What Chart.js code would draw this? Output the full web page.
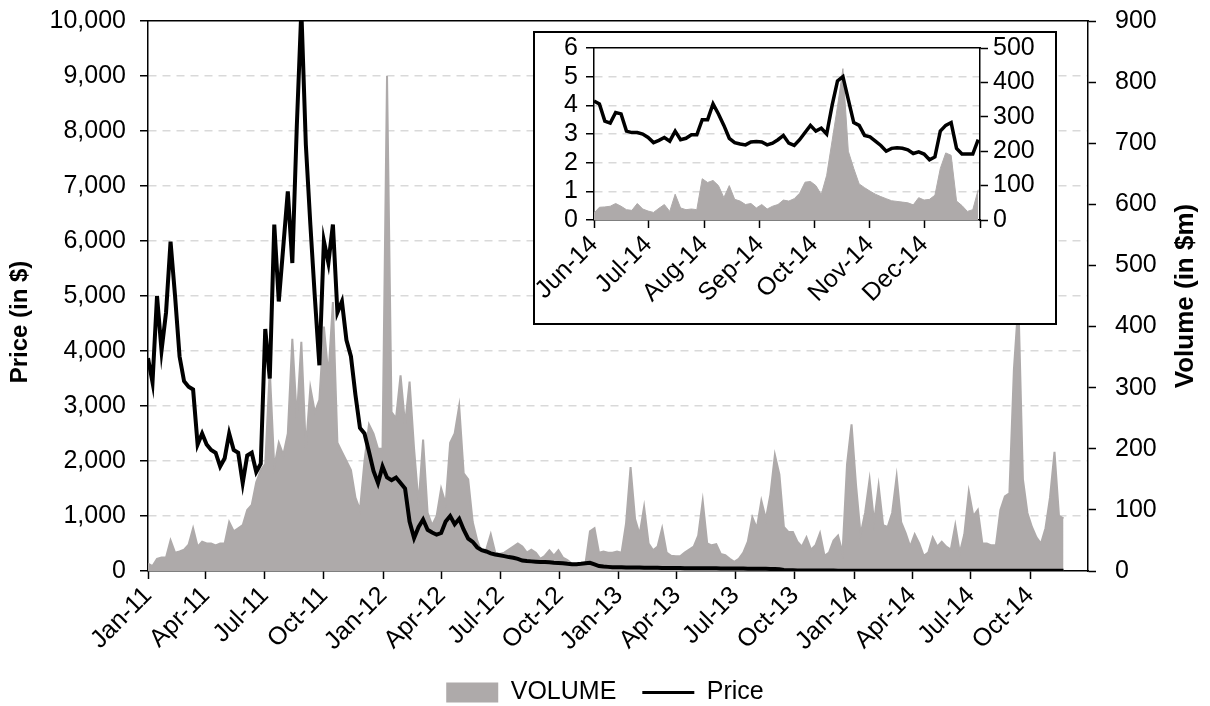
<!DOCTYPE html>
<html>
<head>
<meta charset="utf-8">
<script src="https://cdn.jsdelivr.net/npm/chart.js@4.4.1/dist/chart.umd.min.js"></script>
<style>
  html, body { margin: 0; padding: 0; background: #fff; }
  #wrap { position: relative; width: 1210px; height: 706px; }
  #mainChart { position: absolute; left: 0; top: 0; }
  #insetBox { position: absolute; left: 533px; top: 31px; width: 524px; height: 294px;
              box-sizing: border-box; border: 2px solid #000; background: #fff; }
  #insetChart { position: absolute; left: 0; top: 0; }
</style>
</head>
<body>
<div id="wrap">
  <canvas id="mainChart" width="1210" height="706"></canvas>
  <div id="insetBox"><canvas id="insetChart" width="520" height="290"></canvas></div>
</div>
<script>
// Weekly observations, first one on 1 Jan 2011
const mainStart = Date.UTC(2011, 0, 1);
const priceWeekly = [
  3870, 3430, 5000, 4010, 4700, 5990, 5000, 3900, 3450, 3350,
  3300, 2300, 2500, 2300, 2200, 2150, 1900, 2050, 2500, 2200,
  2150, 1600, 2100, 2150, 1800, 1950, 4400, 3500, 6300, 4900,
  5900, 6900, 5600, 8100, 10200, 7750, 6300, 4970, 3740, 6000,
  5600, 6300, 4700, 4900, 4200, 3900, 3200, 2600, 2500, 2170,
  1820, 1600, 1900, 1700, 1650, 1700, 1600, 1500, 900, 600,
  800, 936, 750, 700, 660, 690, 900, 1000, 850, 950,
  750, 590, 530, 430, 380, 355, 320, 300, 287, 270,
  253, 240, 220, 190, 180, 175, 170, 165, 165, 160,
  150, 145, 140, 130, 125, 125, 130, 140, 150, 120,
  90, 80, 75, 70, 68, 66, 65, 64, 63, 62,
  60, 60, 58, 57, 56, 55, 55, 54, 53, 52,
  52, 51, 50, 50, 49, 48, 48, 47, 46, 45,
  45, 44, 44, 43, 42, 42, 41, 40, 38, 35,
  30, 20, 15, 12, 10, 9, 8, 8, 8, 7,
  7, 7, 7, 6, 6, 6, 6, 6, 6, 6,
  6, 6, 6, 6, 6, 6, 5, 5, 5, 5,
  5, 5, 5, 5, 5, 5, 5, 5, 5, 5,
  5, 4, 4, 4, 4, 4, 4, 4, 4, 4,
  4, 4, 4, 4, 4, 4, 4, 3, 3, 3,
  3, 3, 3, 3
];
const volumeWeekly = [
  12, 8, 20, 22, 22, 50, 30, 32, 35, 43,
  70, 40, 48, 45, 45, 42, 45, 45, 80, 65,
  70, 75, 100, 108, 145, 165, 175, 330, 170, 210,
  190, 225, 380, 250, 375, 200, 300, 260, 280, 400,
  320, 440, 210, 195, 180, 165, 120, 100, 180, 240,
  225, 200, 200, 810, 260, 250, 320, 240, 310, 200,
  110, 215, 95, 75, 90, 135, 110, 210, 225, 270,
  160, 150, 80, 50, 30, 35, 60, 30, 28, 30,
  35, 40, 45, 40, 30, 35, 30, 20, 25, 34,
  25, 34, 22, 18, 12, 10, 10, 12, 65, 70,
  30, 32, 30, 30, 32, 30, 78, 170, 85, 60,
  105, 45, 34, 40, 70, 30, 25, 24, 24, 30,
  35, 40, 58, 115, 45, 42, 44, 28, 26, 20,
  15, 20, 30, 48, 88, 70, 115, 85, 125, 190,
  158, 72, 64, 64, 48, 40, 55, 35, 42, 62,
  25, 30, 50, 58, 30, 175, 240, 140, 60, 95,
  150, 80, 140, 75, 72, 95, 155, 80, 62, 40,
  60, 45, 25, 30, 55, 40, 48, 40, 35, 75,
  30, 60, 130, 90, 100, 45, 45, 42, 42, 100,
  122, 127, 330, 440, 150, 95, 72, 55, 45, 70,
  120, 195, 90, 86
];
const mainTickLabels = ['Jan-11', 'Apr-11', 'Jul-11', 'Oct-11', 'Jan-12', 'Apr-12', 'Jul-12', 'Oct-12',
  'Jan-13', 'Apr-13', 'Jul-13', 'Oct-13', 'Jan-14', 'Apr-14', 'Jul-14', 'Oct-14'];
const mainAxisEndDays = 1459;

// Inset: every third day from 1 Jun 2014
const insetStart = Date.UTC(2014, 5, 1);
const insetPrice = [
  4.15, 4.05, 3.45, 3.38, 3.75, 3.7, 3.1, 3.05, 3.05, 3.0,
  2.88, 2.7, 2.78, 2.88, 2.75, 3.1, 2.8, 2.85, 2.97, 2.97,
  3.5, 3.5, 4.05, 3.7, 3.3, 2.85, 2.7, 2.65, 2.62, 2.72,
  2.74, 2.72, 2.62, 2.68, 2.8, 2.95, 2.68, 2.6, 2.8, 3.05,
  3.3, 3.1, 3.2, 3.0, 4.0, 4.85, 5.0, 4.2, 3.4, 3.3,
  2.95, 2.9, 2.75, 2.6, 2.4, 2.5, 2.52, 2.5, 2.45, 2.32,
  2.38, 2.3, 2.1, 2.2, 3.1, 3.3, 3.4, 2.5, 2.3, 2.3,
  2.3, 2.8
];
const insetVolume = [
  20, 37, 38, 40, 48, 40, 30, 28, 48, 32,
  26, 22, 34, 45, 25, 75, 35, 30, 32, 30,
  120, 109, 115, 100, 65, 100, 60, 55, 45, 48,
  35, 45, 32, 40, 45, 58, 55, 62, 78, 110,
  112, 100, 74, 130, 230, 330, 440, 200, 150, 105,
  94, 84, 75, 68, 62, 56, 54, 52, 50, 44,
  65, 58, 60, 72, 150, 195, 188, 55, 42, 25,
  30, 88
];
const insetTickLabels = ['Jun-14', 'Jul-14', 'Aug-14', 'Sep-14', 'Oct-14', 'Nov-14', 'Dec-14', ''];
const insetAxisEndDays = 214;

const priceTitle = 'Price (in $)';
const volumeTitle = 'Volume (in $m)';

const GRID = '#D9D9D9';
const GRAY = '#AEAAAA';
const FONT = "'Liberation Sans', Arial, sans-serif";
const DAY = 86400000;
const MONTHS = ['Jan', 'Feb', 'Mar', 'Apr', 'May', 'Jun', 'Jul', 'Aug', 'Sep', 'Oct', 'Nov', 'Dec'];
const LEGEND_SHIFT = 9; // legend sits a little lower than Chart.js puts it

Chart.defaults.font.family = FONT;
Chart.defaults.font.size = 25;
Chart.defaults.color = '#000';
Chart.defaults.animation = false;

// day offset of a "Mon-YY" label from a start date
function labelDay(label, start, fallback) {
  if (!label) return fallback;
  const [m, y] = label.split('-');
  return (Date.UTC(2000 + parseInt(y), MONTHS.indexOf(m), 1) - start) / DAY;
}
const mainTickDays = mainTickLabels.map(l => labelDay(l, mainStart));
const insetTickDays = insetTickLabels.map(l => labelDay(l, insetStart, insetAxisEndDays));

function series(values, step) {
  return values.map((v, i) => ({ x: i * step, y: v }));
}

// grid lines dashed, but not on the 0 line or the top edge
function gridColor(max) {
  return ctx => (ctx.tick && (ctx.tick.value === 0 || ctx.tick.value === max)) ? 'rgba(0,0,0,0)' : GRID;
}

// fixed axis width, and keep the label padding from pushing the plot down
function fixWidth(w) {
  return s => { s.width = w; s.paddingTop = 0; s.paddingBottom = 0; };
}

// both axis titles read bottom to top, like the original
function drawTitle(ctx, text, x, y, size) {
  ctx.save();
  ctx.translate(x, y);
  ctx.rotate(-Math.PI / 2);
  ctx.font = 'bold ' + size + 'px ' + FONT;
  ctx.fillStyle = '#000';
  ctx.textAlign = 'center';
  ctx.textBaseline = 'middle';
  ctx.fillText(text, 0, 0);
  ctx.restore();
}
const axisTitles = {
  id: 'axisTitles',
  afterDraw(chart) {
    drawTitle(chart.ctx, priceTitle, 20, 322, 24);
    drawTitle(chart.ctx, volumeTitle, 1186, 296, 26);
  }
};

new Chart(document.getElementById('mainChart'), {
  type: 'line',
  data: {
    datasets: [{
      label: 'VOLUME',
      data: series(volumeWeekly, 7),
      yAxisID: 'yV',
      order: 2,
      fill: 'origin',
      backgroundColor: GRAY,
      borderColor: GRAY,
      borderWidth: 2,
      pointRadius: 0,
      pointStyle: 'rect',
      pointBackgroundColor: GRAY,
      pointBorderWidth: 0,
      tension: 0
    }, {
      label: 'Price',
      data: series(priceWeekly, 7),
      yAxisID: 'y',
      order: 1,
      borderColor: '#000',
      borderWidth: 4,
      pointRadius: 0,
      pointStyle: 'line',
      pointBorderColor: '#000',
      pointBorderWidth: 3,
      tension: 0
    }]
  },
  options: {
    responsive: false,
    layout: { padding: { top: 21, left: 0, right: 0, bottom: -LEGEND_SHIFT } },
    plugins: {
      tooltip: { enabled: false },
      legend: {
        position: 'bottom',
        labels: {
          usePointStyle: true,
          pointStyleWidth: 52,
          boxHeight: 20,
          padding: 26,
          font: { size: 25 },
          sort: (a, b) => a.datasetIndex - b.datasetIndex
        }
      }
    },
    scales: {
      x: {
        type: 'linear', position: 'bottom', min: 0, max: mainAxisEndDays,
        afterBuildTicks: s => { s.ticks = mainTickDays.map(v => ({ value: v })); },
        afterFit: s => { s.height = 706 + LEGEND_SHIFT - 571 - s.chart.legend.height; },
        grid: { drawOnChartArea: false, tickLength: 8, tickColor: '#000', tickWidth: 1.5 },
        border: { color: '#000', width: 1.5 },
        ticks: { autoSkip: false, minRotation: 45, maxRotation: 45, padding: 2,
                 callback: (v, i) => mainTickLabels[i] }
      },
      xTop: {
        type: 'linear', position: 'top', min: 0, max: mainAxisEndDays,
        ticks: { display: false },
        grid: { display: false, drawTicks: false },
        border: { color: '#000', width: 1.5 },
        afterFit: s => { s.height = 0; }
      },
      y: {
        position: 'left', min: 0, max: 10000,
        afterFit: fixWidth(148),
        ticks: { stepSize: 1000, padding: 14, autoSkip: false, callback: v => v.toLocaleString('en-US') },
        grid: { color: gridColor(10000), lineWidth: 1.5, tickLength: 8, tickColor: '#000',
                tickWidth: 1.5, tickBorderDash: [] },
        border: { color: '#000', width: 1.5, dash: [8, 6] }
      },
      yV: {
        position: 'right', min: 0, max: 900,
        afterFit: fixWidth(122),
        ticks: { stepSize: 100, padding: 19, autoSkip: false },
        grid: { drawOnChartArea: false, tickLength: 8, tickColor: '#000', tickWidth: 1.5 },
        border: { color: '#000', width: 1.5 }
      }
    }
  },
  plugins: [axisTitles]
});

new Chart(document.getElementById('insetChart'), {
  type: 'line',
  data: {
    datasets: [{
      label: 'VOLUME',
      data: series(insetVolume, 3),
      yAxisID: 'yV',
      order: 2,
      fill: 'origin',
      backgroundColor: GRAY,
      borderColor: GRAY,
      borderWidth: 1,
      pointRadius: 0,
      tension: 0
    }, {
      label: 'Price',
      data: series(insetPrice, 3),
      yAxisID: 'y',
      order: 1,
      borderColor: '#000',
      borderWidth: 3.5,
      pointRadius: 0,
      tension: 0
    }]
  },
  options: {
    responsive: false,
    layout: { padding: { top: 15, left: 0, right: 0, bottom: 0 } },
    plugins: { legend: { display: false }, tooltip: { enabled: false } },
    scales: {
      x: {
        type: 'linear', position: 'bottom', min: 0, max: insetAxisEndDays,
        afterBuildTicks: s => { s.ticks = insetTickDays.map(v => ({ value: v })); },
        afterFit: s => { s.height = 290 - 187; },
        grid: { drawOnChartArea: false, tickLength: 8, tickColor: '#000', tickWidth: 1.5 },
        border: { color: '#000', width: 1.5 },
        ticks: { autoSkip: false, minRotation: 45, maxRotation: 45, padding: 2,
                 callback: (v, i) => insetTickLabels[i] }
      },
      xTop: {
        type: 'linear', position: 'top', min: 0, max: insetAxisEndDays,
        ticks: { display: false },
        grid: { display: false, drawTicks: false },
        border: { color: '#000', width: 1.5 },
        afterFit: s => { s.height = 0; }
      },
      y: {
        position: 'left', min: 0, max: 6,
        afterFit: fixWidth(59),
        ticks: { stepSize: 1, padding: 8, autoSkip: false },
        grid: { color: gridColor(6), lineWidth: 1.5, tickLength: 8, tickColor: '#000',
                tickWidth: 1.5, tickBorderDash: [] },
        border: { color: '#000', width: 1.5, dash: [8, 6] }
      },
      yV: {
        position: 'right', min: 0, max: 500,
        afterFit: fixWidth(75),
        ticks: { stepSize: 100, padding: 5, autoSkip: false },
        grid: { drawOnChartArea: false, tickLength: 8, tickColor: '#000', tickWidth: 1.5 },
        border: { color: '#000', width: 1.5 }
      }
    }
  }
});
</script>
</body>
</html>
